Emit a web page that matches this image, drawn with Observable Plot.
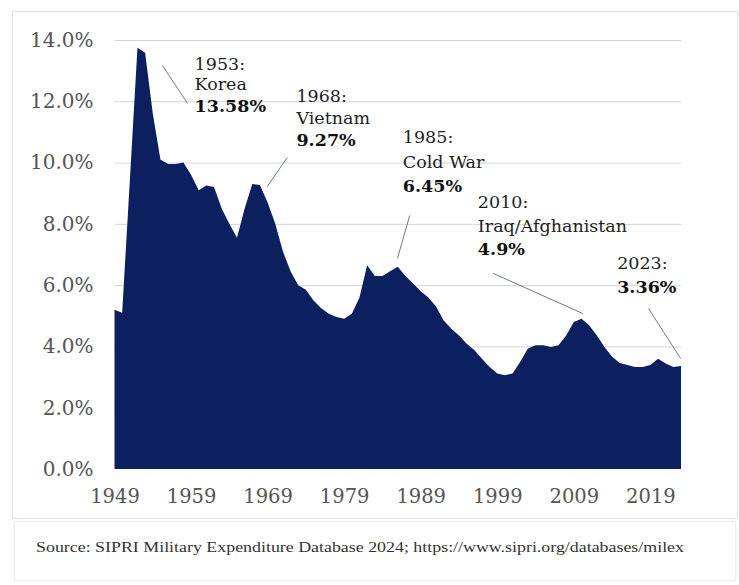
<!DOCTYPE html>
<html><head><meta charset="utf-8">
<script src="https://cdn.jsdelivr.net/npm/d3@7"></script>
<script src="https://cdn.jsdelivr.net/npm/@observablehq/plot@0.6"></script>
<style>
html,body{margin:0;padding:0;background:#fff}
body{width:739px;height:585px;overflow:hidden;position:relative;font-family:"DejaVu Serif",serif}
#frame{position:absolute;left:12px;top:11px;width:724px;height:506px;border:1px solid #e4e4e4}
#capbox{position:absolute;left:14px;top:521px;width:720px;height:58px;border:1px solid #efefef;box-shadow:0 0 3px #eee}
#chart{position:absolute;left:0;top:0}
#source{position:absolute;left:36px;top:539px;font-family:"Liberation Serif",serif;font-size:14.5px;color:#333;white-space:nowrap;transform-origin:0 0}
</style></head>
<body>
<div id="frame"></div>
<div id="capbox"></div>
<div id="chart"></div>
<div id="source">Source: SIPRI Military Expenditure Database 2024; https://www.sipri.org/databases/milex</div>
<script>
// US military expenditure, % of GDP
const years = [1949,1950,1951,1952,1953,1954,1955,1956,1957,1958,1959,
  1960,1961,1962,1963,1964,1965,1966,1967,1968,1969,
  1970,1971,1972,1973,1974,1975,1976,1977,1978,1979,
  1980,1981,1982,1983,1984,1985,1986,1987,1988,1989,
  1990,1991,1992,1993,1994,1995,1996,1997,1998,1999,
  2000,2001,2002,2003,2004,2005,2006,2007,2008,2009,
  2010,2011,2012,2013,2014,2015,2016,2017,2018,2019,
  2020,2021,2022,2023];
const spending = [5.2,5.1,9.4,13.75,13.58,11.6,10.1,9.95,9.95,10.0,9.6,
  9.1,9.25,9.2,8.5,8.0,7.55,8.5,9.3,9.27,8.7,
  8.0,7.1,6.45,6.0,5.85,5.5,5.25,5.07,4.96,4.9,
  5.07,5.6,6.65,6.3,6.3,6.45,6.6,6.3,6.05,5.8,
  5.6,5.3,4.85,4.58,4.36,4.09,3.88,3.6,3.33,3.12,
  3.06,3.12,3.5,3.93,4.04,4.04,3.98,4.04,4.36,4.8,
  4.9,4.69,4.36,3.98,3.66,3.46,3.39,3.33,3.33,3.39,
  3.6,3.44,3.33,3.36];
const yTicks = [0,2,4,6,8,10,12,14];
const xTicks = [1949,1959,1969,1979,1989,1999,2009,2019];

// Annotations: text lines anchored in data units (year, %)
const annLines  = ["1953:","Korea","13.58%","1968:","Vietnam","9.27%","1985:","Cold War","6.45%","2010:","Iraq/Afghanistan","4.9%","2023:","3.36%"];
const annBold   = [false,false,true,false,false,true,false,false,true,false,false,true,false,true];
const annYear   = [1959.4,1959.4,1959.4,1972.7,1972.7,1972.7,1986.6,1986.6,1986.6,1996.4,1996.4,1996.4,2014.6,2014.6];
const annValue  = [13.05,12.37,11.68,11.98,11.29,10.57,10.64,9.85,9.04,8.55,7.74,6.99,6.55,5.77];
// Leader lines (from, to) in data units
const leadYear1 = [1955.2,1971.5,1987.5,1998.4,2018.7];
const leadVal1  = [13.18,10.18,8.29,6.40,5.25];
const leadYear2 = [1958.5,1968.9,1985.9,2010.1,2022.9];
const leadVal2  = [11.94,9.24,6.89,5.09,3.62];

const data = years.map((year, i) => ({year, value: spending[i]}));
const ann = annLines.map((t, i) => ({t, bold: annBold[i], x: annYear[i], y: annValue[i]}));
const leads = leadYear1.map((x1, i) => ({x1, y1: leadVal1[i], x2: leadYear2[i], y2: leadVal2[i]}));

const chart = Plot.plot({
  width: 739,
  height: 510,
  marginLeft: 114.5,
  marginRight: 58,
  marginTop: 40,
  marginBottom: 41,
  style: {fontFamily: "'DejaVu Serif', serif", background: "transparent", color: "#555"},
  x: {domain: [1949, 2023]},
  y: {domain: [0, 14]},
  marks: [
    Plot.ruleY(yTicks.filter(d => d > 0), {stroke: "#d4d4d4", strokeWidth: 1}),
    Plot.areaY(data, {x: "year", y: "value", fill: "#0c1f5e"}),
    Plot.axisY({ticks: yTicks, tickSize: 0, tickPadding: 21.5, fontSize: 20, tickFormat: d => d.toFixed(1) + "%", fill: "#555", label: null}),
    Plot.axisX({ticks: xTicks, tickSize: 0, tickPadding: 20, fontSize: 19.5, tickFormat: d => String(d), fill: "#555", label: null}),
    Plot.link(leads, {x1: "x1", y1: "y1", x2: "x2", y2: "y2", stroke: "#6c7894", strokeWidth: 1}),
    Plot.text(ann.filter(d => !d.bold), {x: "x", y: "y", text: "t", textAnchor: "start", lineAnchor: "bottom", fontSize: 17.5, fill: "#1e1e1e"}),
    Plot.text(ann.filter(d => d.bold), {x: "x", y: "y", text: "t", textAnchor: "start", lineAnchor: "bottom", fontSize: 17.5, fontWeight: "bold", fill: "#111"})
  ]
});
document.getElementById("chart").appendChild(chart);

// fit caption width to the reference span
const src = document.getElementById("source");
const w = src.getBoundingClientRect().width;
src.style.transform = `scaleX(${648 / w})`;
</script>
</body></html>
